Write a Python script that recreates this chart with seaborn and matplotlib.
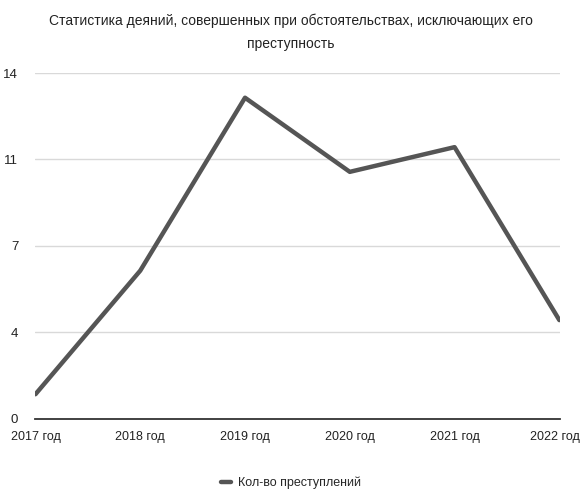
import matplotlib
matplotlib.use('Agg')
import matplotlib.pyplot as plt
import matplotlib.transforms as mtransforms
import pandas as pd
import seaborn as sns
from matplotlib import font_manager

years = ['2017 год', '2018 год', '2019 год', '2020 год', '2021 год', '2022 год']
counts = [1, 6, 13, 10, 11, 4]
y_ticks = [0, 3.5, 7, 10.5, 14]
y_tick_labels = ['0', '4', '7', '11', '14']
title = 'Статистика деяний, совершенных при обстоятельствах, исключающих его\nпреступность'
series_name = 'Кол-во преступлений'

sns.set_style('white')
names = {f.name for f in font_manager.fontManager.ttflist}
if 'Liberation Sans Narrow' in names:
    plt.rcParams['font.family'] = ['Liberation Sans Narrow', 'DejaVu Sans']
else:
    plt.rcParams['font.family'] = ['Liberation Sans', 'DejaVu Sans']

df = pd.DataFrame({'year': years, 'count': counts})

fig = plt.figure(figsize=(5.82, 4.90), dpi=100)
ax = fig.add_axes([0.060, 0.145, 0.902, 0.706])

sns.lineplot(data=df, x='year', y='count', ax=ax, color='#555555',
             linewidth=3.2, sort=False, label=series_name, legend=False)

ax.set_ylim(0, 14)
ax.set_xlim(-0.005, 5.005)
ax.set_yticks(y_ticks)
ax.set_yticklabels(y_tick_labels)
ax.grid(axis='y', color='#d9d9d9', linewidth=1)
ax.set_axisbelow(True)
for s in ['top', 'right', 'left']:
    ax.spines[s].set_visible(False)
ax.spines['bottom'].set_color('#333333')
ax.spines['bottom'].set_linewidth(1.3)
ax.tick_params(axis='y', length=0, labelsize=9.5, colors='#222222', pad=12)
ax.tick_params(axis='x', length=0, labelsize=9, colors='#222222', pad=9)
ax.set_xlabel('')
ax.set_ylabel('')

# keep the last year label inside the picture
last = ax.get_xticklabels()[-1]
last.set_transform(last.get_transform() +
                   mtransforms.ScaledTranslation(-4 / 100, 0, fig.dpi_scale_trans))

fig.text(0.5, 0.934, title, ha='center', va='center', fontsize=10,
         color='#222222', linespacing=1.8)

handles, labels = ax.get_legend_handles_labels()
fig.legend(handles, labels, loc='center', bbox_to_anchor=(0.5, 0.015),
           frameon=False, fontsize=9, handlelength=0.8, handletextpad=0.5)

fig.savefig('out.png', dpi=100)
